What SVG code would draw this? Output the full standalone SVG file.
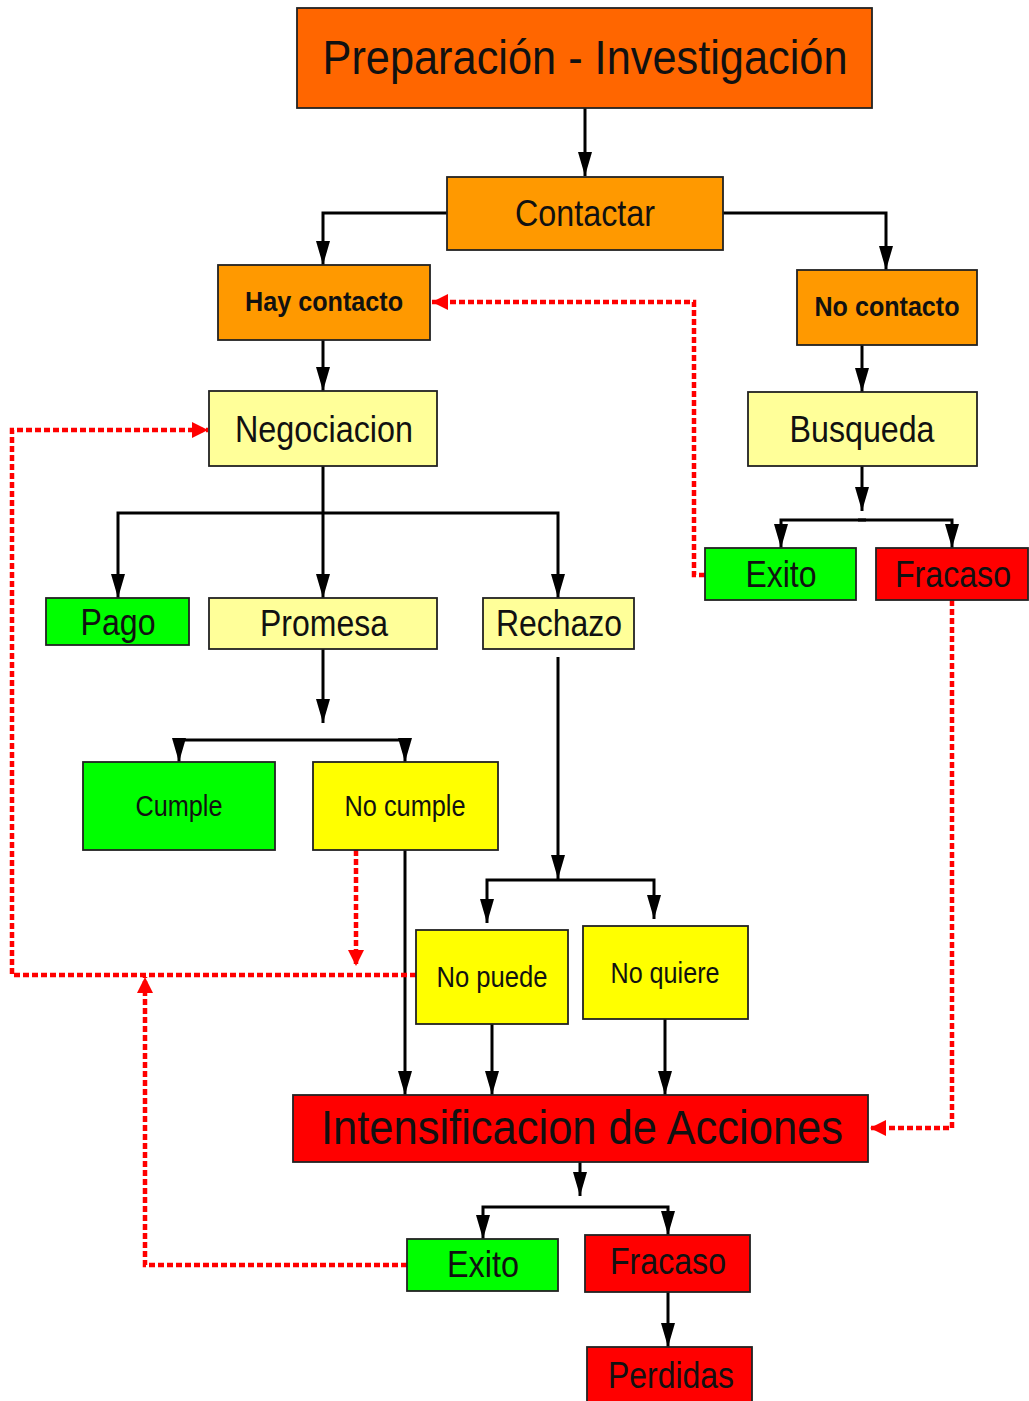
<svg xmlns="http://www.w3.org/2000/svg" width="1029" height="1401" viewBox="0 0 1029 1401">
<style>
.box{stroke:#222;stroke-width:1.8}
.t{font-family:"Liberation Sans",Arial,sans-serif;fill:#111;text-anchor:middle}
.b{font-weight:bold}
.c{fill:none;stroke:#000;stroke-width:3}
.d{fill:none;stroke:#FF0000;stroke-width:4.5;stroke-dasharray:6 3}
.o1{fill:#FF6600}.o2{fill:#FF9900}.ly{fill:#FFFF99}.y{fill:#FFFF00}.g{fill:#00FF00}.r{fill:#FF0000}
</style>
<defs>
<marker id="ab" markerUnits="userSpaceOnUse" markerWidth="24" markerHeight="16" refX="24" refY="7" orient="auto">
<path d="M0,0 L24,7 L0,14 Z" fill="#000"/>
</marker>
<marker id="ar" markerUnits="userSpaceOnUse" markerWidth="18" markerHeight="18" refX="16" refY="8" orient="auto">
<path d="M0,0 L16,8 L0,16 Z" fill="#FF0000"/>
</marker>
</defs>
<rect width="1029" height="1401" fill="#fff"/>

<g id="connectors">
<path class="c" d="M585,108 V176" marker-end="url(#ab)"/>
<path class="c" d="M447,213 H323 V265" marker-end="url(#ab)"/>
<path class="c" d="M723,213 H886 V270" marker-end="url(#ab)"/>
<path class="c" d="M323,340 V391" marker-end="url(#ab)"/>
<path class="c" d="M862,345 V392" marker-end="url(#ab)"/>
<path class="c" d="M323,466 V598" marker-end="url(#ab)"/>
<path class="c" d="M323,513 H118 V598" marker-end="url(#ab)"/>
<path class="c" d="M323,513 H558 V598" marker-end="url(#ab)"/>
<path class="c" d="M862,466 V511" marker-end="url(#ab)"/>
<path class="c" d="M866,520 H781 V548" marker-end="url(#ab)"/>
<path class="c" d="M858,520 H952 V548" marker-end="url(#ab)"/>
<path class="c" d="M323,649 V723" marker-end="url(#ab)"/>
<path class="c" d="M323,740 H179 V762" marker-end="url(#ab)"/>
<path class="c" d="M323,740 H405 V762" marker-end="url(#ab)"/>
<path class="c" d="M558,657 V879" marker-end="url(#ab)"/>
<path class="c" d="M558,880 H487 V923" marker-end="url(#ab)"/>
<path class="c" d="M558,880 H654 V919" marker-end="url(#ab)"/>
<path class="c" d="M405,850 V1095" marker-end="url(#ab)"/>
<path class="c" d="M492,1024 V1095" marker-end="url(#ab)"/>
<path class="c" d="M665,1019 V1095" marker-end="url(#ab)"/>
<path class="c" d="M580,1162 V1196" marker-end="url(#ab)"/>
<path class="c" d="M580,1207 H483 V1239" marker-end="url(#ab)"/>
<path class="c" d="M580,1207 H668 V1235" marker-end="url(#ab)"/>
<path class="c" d="M668,1292 V1347" marker-end="url(#ab)"/>

<path class="d" d="M705,575 H694 V302 H432" marker-end="url(#ar)"/>
<path class="d" d="M952,600 V1128 H870" marker-end="url(#ar)"/>
<path class="d" d="M356,850 V966" marker-end="url(#ar)"/>
<path class="d" d="M416,975 H12 V430 H208" marker-end="url(#ar)"/>
<path class="d" d="M407,1265 H145 V977" marker-end="url(#ar)"/>
</g>

<g id="n-prep"><rect class="box o1" x="297" y="8" width="575" height="100"/><text class="t" x="585" y="74" font-size="48" textLength="525" lengthAdjust="spacingAndGlyphs">Preparación - Investigación</text></g>
<g id="n-contactar"><rect class="box o2" x="447" y="177" width="276" height="73"/><text class="t" x="585" y="226" font-size="37" textLength="140" lengthAdjust="spacingAndGlyphs">Contactar</text></g>
<g id="n-hay"><rect class="box o2" x="218" y="265" width="212" height="75"/><text class="t b" x="324" y="311" font-size="27" textLength="158" lengthAdjust="spacingAndGlyphs">Hay contacto</text></g>
<g id="n-nocontacto"><rect class="box o2" x="797" y="270" width="180" height="75"/><text class="t b" x="887" y="316" font-size="27" textLength="145" lengthAdjust="spacingAndGlyphs">No contacto</text></g>
<g id="n-negociacion"><rect class="box ly" x="209" y="391" width="228" height="75"/><text class="t" x="324" y="442" font-size="37" textLength="178" lengthAdjust="spacingAndGlyphs">Negociacion</text></g>
<g id="n-busqueda"><rect class="box ly" x="748" y="392" width="229" height="74"/><text class="t" x="862" y="442" font-size="37" textLength="145" lengthAdjust="spacingAndGlyphs">Busqueda</text></g>
<g id="n-pago"><rect class="box g" x="46" y="598" width="143" height="47"/><text class="t" x="118" y="635" font-size="37" textLength="75" lengthAdjust="spacingAndGlyphs">Pago</text></g>
<g id="n-promesa"><rect class="box ly" x="209" y="598" width="228" height="51"/><text class="t" x="324" y="636" font-size="37" textLength="128" lengthAdjust="spacingAndGlyphs">Promesa</text></g>
<g id="n-rechazo"><rect class="box ly" x="483" y="598" width="151" height="51"/><text class="t" x="559" y="636" font-size="37" textLength="126" lengthAdjust="spacingAndGlyphs">Rechazo</text></g>
<g id="n-exito1"><rect class="box g" x="705" y="548" width="151" height="52"/><text class="t" x="781" y="587" font-size="37" textLength="71" lengthAdjust="spacingAndGlyphs">Exito</text></g>
<g id="n-fracaso1"><rect class="box r" x="876" y="548" width="152" height="52"/><text class="t" x="953" y="587" font-size="37" textLength="116" lengthAdjust="spacingAndGlyphs">Fracaso</text></g>
<g id="n-cumple"><rect class="box g" x="83" y="762" width="192" height="88"/><text class="t" x="179" y="816" font-size="29" textLength="87" lengthAdjust="spacingAndGlyphs">Cumple</text></g>
<g id="n-nocumple"><rect class="box y" x="313" y="762" width="185" height="88"/><text class="t" x="405" y="816" font-size="29" textLength="121" lengthAdjust="spacingAndGlyphs">No cumple</text></g>
<g id="n-nopuede"><rect class="box y" x="416" y="930" width="152" height="94"/><text class="t" x="492" y="987" font-size="29" textLength="111" lengthAdjust="spacingAndGlyphs">No puede</text></g>
<g id="n-noquiere"><rect class="box y" x="583" y="926" width="165" height="93"/><text class="t" x="665" y="983" font-size="29" textLength="109" lengthAdjust="spacingAndGlyphs">No quiere</text></g>
<g id="n-intens"><rect class="box r" x="293" y="1095" width="575" height="67"/><text class="t" x="582" y="1144" font-size="49" textLength="522" lengthAdjust="spacingAndGlyphs">Intensificacion de Acciones</text></g>
<g id="n-exito2"><rect class="box g" x="407" y="1239" width="151" height="52"/><text class="t" x="483" y="1277" font-size="37" textLength="72" lengthAdjust="spacingAndGlyphs">Exito</text></g>
<g id="n-fracaso2"><rect class="box r" x="585" y="1235" width="165" height="57"/><text class="t" x="668" y="1274" font-size="37" textLength="116" lengthAdjust="spacingAndGlyphs">Fracaso</text></g>
<g id="n-perdidas"><rect class="box r" x="587" y="1347" width="165" height="60"/><text class="t" x="671" y="1388" font-size="37" textLength="126" lengthAdjust="spacingAndGlyphs">Perdidas</text></g>
</svg>
